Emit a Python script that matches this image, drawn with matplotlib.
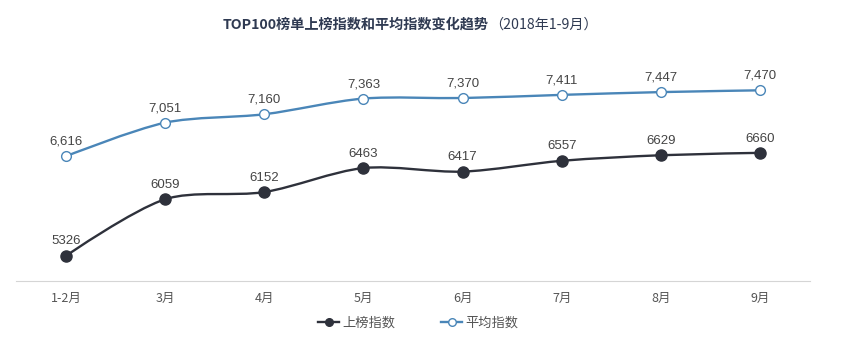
import numpy as np
import matplotlib
matplotlib.use('Agg')
import matplotlib.pyplot as plt
from matplotlib.path import Path
from matplotlib.patches import PathPatch
from matplotlib.lines import Line2D

plt.rcParams['font.family'] = ['Noto Sans CJK SC', 'DejaVu Sans']

# ------------------ data ------------------
months = ["1-2月", "3月", "4月", "5月", "6月", "7月", "8月", "9月"]
rank_index = [5326, 6059, 6152, 6463, 6417, 6557, 6629, 6660]
avg_index = [6616, 7051, 7160, 7363, 7370, 7411, 7447, 7470]

DARK = "#2e313b"
BLUE = "#4a86b8"
TEXT = "#555555"


def smooth_path(ax, xs, ys, smooth=0.3):
    # cubic bezier through the points (computed in display space, like echarts smooth)
    pts = ax.transData.transform(np.column_stack([xs, ys]))
    n = len(pts)
    cps = []
    for i in range(n):
        p = pts[i]
        if i == 0 or i == n - 1:
            cps.append((p, p))
            continue
        prev, nxt = pts[i - 1], pts[i + 1]
        v = (nxt - prev) * smooth
        d0 = np.hypot(*(p - prev))
        d1 = np.hypot(*(nxt - p))
        s = d0 + d1
        cps.append((p - v * d0 / s, p + v * d1 / s))
    verts = [pts[0]]
    codes = [Path.MOVETO]
    for i in range(n - 1):
        verts += [cps[i][1], cps[i + 1][0], pts[i + 1]]
        codes += [Path.CURVE4] * 3
    verts = ax.transData.inverted().transform(np.array(verts))
    return Path(verts, codes)


fig = plt.figure(figsize=(8.48, 3.4), dpi=100)
ax = fig.add_axes([16.4 / 848, 59 / 340, (809.6 - 16.4) / 848, (281 - 49.4) / 340])
x = np.arange(len(months))
ax.set_xlim(-0.5, len(months) - 0.5)
ax.set_ylim(5000, 8000)

for vals, color, face, ms, fmt in [
    (avg_index, BLUE, "white", 7, "{:,}"),
    (rank_index, DARK, DARK, 8, "{}"),
]:
    ax.add_patch(PathPatch(smooth_path(ax, x, vals), facecolor="none",
                           edgecolor=color, lw=1.7, zorder=2))
    ax.plot(x, vals, ls="none", marker="o", ms=ms, mfc=face, mec=color,
            mew=1, zorder=3)
    for xi, v in zip(x, vals):
        ax.annotate(fmt.format(v), (xi, v), xytext=(0, 6), textcoords="offset points",
                    ha="center", va="bottom", fontsize=9.5, color="#444444",
                    family=["Liberation Sans", "DejaVu Sans"])

for side in ["top", "right", "left"]:
    ax.spines[side].set_visible(False)
ax.spines["bottom"].set_color("#d5d5d5")
ax.set_yticks([])
ax.set_xticks(x)
ax.set_xticklabels(months, fontsize=9, color=TEXT)
ax.tick_params(axis="x", length=0, pad=8)

# title: bold part + normal part
fig.text(489 / 848, 1 - 25 / 340, "TOP100榜单上榜指数和平均指数变化趋势", ha="right",
         va="center", fontsize=10.2, fontweight="bold", color="#2f3a52")
fig.text(489 / 848, 1 - 25 / 340, "（2018年1-9月）", ha="left", va="center",
         fontsize=10.2, color="#2f3a52")

handles = [
    Line2D([], [], color=DARK, lw=1.7, marker="o", ms=5.5, mfc=DARK, mec=DARK),
    Line2D([], [], color=BLUE, lw=1.7, marker="o", ms=5.5, mfc="white", mec=BLUE),
]
leg = fig.legend(handles, ["上榜指数", "平均指数"], loc="center",
                 bbox_to_anchor=(418 / 848, 1 - 323 / 340), ncol=2, frameon=False,
                 fontsize=9.5, handlelength=1.6, handletextpad=0.2, columnspacing=3.5)
for t in leg.get_texts():
    t.set_color(TEXT)

fig.savefig("out.png", dpi=100)
